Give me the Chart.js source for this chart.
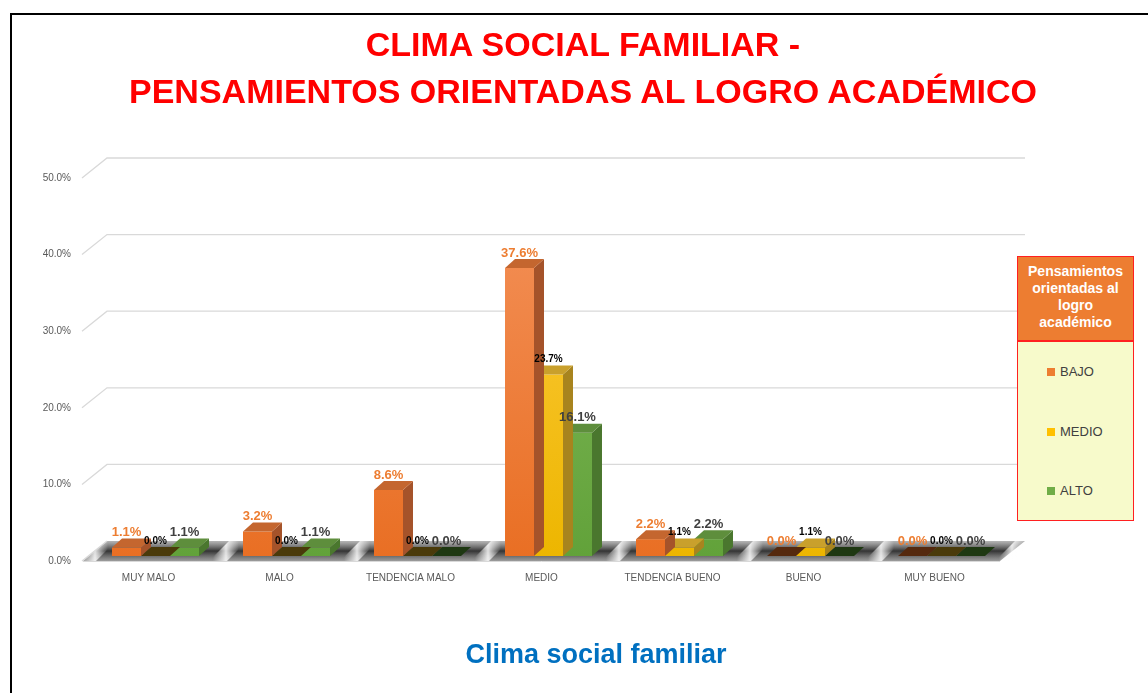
<!DOCTYPE html>
<html><head><meta charset="utf-8">
<script src="https://cdn.jsdelivr.net/npm/chart.js@4.4.1/dist/chart.umd.min.js"></script>
<style>
html,body{margin:0;padding:0;background:#fff;width:1148px;height:693px;overflow:hidden;font-family:"Liberation Sans",Arial,sans-serif;}
#frame{position:absolute;left:10px;top:13px;width:1200px;height:800px;border-left:2.5px solid #000;border-top:2.5px solid #000;box-sizing:border-box;}
#c{position:absolute;left:0;top:0;}
#title{position:absolute;left:0;top:21px;width:1166px;text-align:center;color:#FF0000;font-weight:bold;font-size:34px;line-height:47px;}
#xtitle{position:absolute;left:0;top:638px;width:1192px;text-align:center;color:#0070C0;font-weight:bold;font-size:27px;line-height:32px;}
#lghead{position:absolute;left:1017px;top:256px;width:117px;height:85px;box-sizing:border-box;background:#ED7D31;border:1.5px solid #FF2020;color:#fff;font-weight:bold;font-size:14px;line-height:17px;text-align:center;padding-top:6px;}
#lgbody{position:absolute;left:1017px;top:341px;width:117px;height:180px;box-sizing:border-box;background:#F7FACB;border:1.5px solid #FF2020;}
.li{position:absolute;left:29px;font-size:13px;color:#404040;line-height:16px;}
.li span.m{display:inline-block;width:8px;height:8px;margin-right:5px;vertical-align:0px;}
</style>
</head><body>
<div id="frame"></div>
<canvas id="c" width="1148" height="693"></canvas>
<div id="title"></div>
<div id="xtitle"></div>
<div id="lghead"></div>
<div id="lgbody"></div>
<script>
// ---- data ----
const chartTitle = ["CLIMA SOCIAL FAMILIAR -", "PENSAMIENTOS ORIENTADAS AL LOGRO ACADÉMICO"];
const xAxisTitle = "Clima social familiar";
const legendTitle = ["Pensamientos", "orientadas al", "logro", "académico"];
const categories = ["MUY MALO", "MALO", "TENDENCIA MALO", "MEDIO", "TENDENCIA BUENO", "BUENO", "MUY BUENO"];
const seriesNames = ["BAJO", "MEDIO", "ALTO"];
const bajo  = [1.1, 3.2, 8.6, 37.6, 2.2, 0.0, 0.0];
const medio = [0.0, 0.0, 0.0, 23.7, 1.1, 1.1, 0.0];
const alto  = [1.1, 1.1, 0.0, 16.1, 2.2, 0.0, 0.0];
const yTicks = [0, 10, 20, 30, 40, 50];

// ---- styles ----
const styles = [
  {base:'#ED7D31', gTop:'#F4935C', gBot:'#E96F24', topFace:'#C4662F', side:'#A5532A', zero:'#55290E', lbl:'#ED7D31', lblSize:13},
  {base:'#FFC000', gTop:'#FFCC45', gBot:'#EDB600', topFace:'#C9A02C', side:'#A8841E', zero:'#4A3A0A', lbl:'#000000', lblSize:10},
  {base:'#70AD47', gTop:'#86BD60', gBot:'#62A23A', topFace:'#5E8E3C', side:'#4A772E', zero:'#1E3812', lbl:'#404040', lblSize:13}
];
const DX = 10, DY = 9;

document.getElementById('title').innerHTML = chartTitle.join('<br>');
document.getElementById('xtitle').textContent = xAxisTitle;
document.getElementById('lghead').innerHTML = legendTitle.join('<br>');
const lgb = document.getElementById('lgbody');
[22, 82, 141].forEach((t, i) => {
  const d = document.createElement('div');
  d.className = 'li'; d.style.top = t + 'px';
  d.innerHTML = '<span class="m" style="background:' + styles[i].base + '"></span>' + seriesNames[i];
  lgb.appendChild(d);
});

const ctx = document.getElementById('c').getContext('2d');

function frontGradient(i) {
  return (context) => {
    const chart = context.chart;
    const a = chart.chartArea;
    if (!a) return styles[i].base;
    const el = context.element;
    const top = el && isFinite(el.y) ? el.y : a.top;
    const bot = el && isFinite(el.base) ? el.base : a.bottom;
    const g = chart.ctx.createLinearGradient(0, Math.min(top, bot - 1), 0, bot);
    g.addColorStop(0, styles[i].gTop);
    g.addColorStop(1, styles[i].gBot);
    return g;
  };
}

const wallPlugin = {
  id: 'wall',
  beforeDatasetsDraw(chart) {
    const c = chart.ctx, a = chart.chartArea, ys = chart.scales.y, xs = chart.scales.x;
    c.save();
    // floor
    const fy = a.bottom + 5, by = a.bottom - 15;
    const fl = a.left - 7, fr = a.right - 7;
    const bl = fl + 24, br = 1025;
    c.beginPath();
    c.moveTo(fl, fy); c.lineTo(bl, by); c.lineTo(br, by); c.lineTo(fr, fy); c.closePath();
    const g = c.createLinearGradient(0, by, 0, fy);
    g.addColorStop(0, 'rgba(120,120,120,0.55)');
    g.addColorStop(0.5, 'rgba(30,30,30,0.9)');
    g.addColorStop(1, 'rgba(90,90,90,0.6)');
    c.fillStyle = g; c.fill();
    // light streaks in gaps between categories
    for (let k = 0; k <= categories.length; k++) {
      const xc = xs.getPixelForValue(k - 0.5);
      const gg = c.createLinearGradient(xc - 8, 0, xc + 18, 0);
      gg.addColorStop(0, 'rgba(255,255,255,0)');
      gg.addColorStop(0.5, 'rgba(255,255,255,0.85)');
      gg.addColorStop(1, 'rgba(255,255,255,0)');
      c.beginPath();
      c.moveTo(xc - 12, fy); c.lineTo(xc + 8, by); c.lineTo(xc + 26, by); c.lineTo(xc + 6, fy); c.closePath();
      c.fillStyle = gg; c.fill();
    }
    c.strokeStyle = '#D9D9D9'; c.lineWidth = 1;
    c.beginPath(); c.moveTo(fl, fy + 0.5); c.lineTo(fr, fy + 0.5); c.stroke();
    // gridlines (3D wall)
    c.strokeStyle = '#D9D9D9'; c.lineWidth = 1.3;
    yTicks.forEach(v => {
      const py = ys.getPixelForValue(v);
      c.beginPath();
      c.moveTo(a.left - 8, py + 5);
      c.lineTo(a.left + 17, py - 15);
      if (v > 0) c.lineTo(br, py - 15);
      c.stroke();
    });
    c.restore();
  },
  afterDatasetDraw(chart, args) {
    const c = chart.ctx, i = args.index, s = styles[i];
    c.save();
    args.meta.data.forEach((el, j) => {
      const v = chart.data.datasets[i].data[j];
      const left = el.x - el.width / 2, right = el.x + el.width / 2;
      const top = Math.min(el.y, el.base), base = el.base;
      // side face
      if (v > 0) {
        c.beginPath();
        c.moveTo(right, top); c.lineTo(right + DX, top - DY); c.lineTo(right + DX, base - DY); c.lineTo(right, base); c.closePath();
        c.fillStyle = s.side; c.fill();
      }
      // top face
      c.beginPath();
      c.moveTo(left, top); c.lineTo(left + DX, top - DY); c.lineTo(right + DX, top - DY); c.lineTo(right, top); c.closePath();
      c.fillStyle = v > 0 ? s.topFace : s.zero; c.fill();
    });
    c.restore();
  },
  afterDatasetsDraw(chart) {
    const c = chart.ctx;
    c.save();
    c.textAlign = 'center'; c.textBaseline = 'middle';
    chart.data.datasets.forEach((ds, i) => {
      const s = styles[i];
      c.font = 'bold ' + s.lblSize + 'px "Liberation Sans", Arial, sans-serif';
      c.fillStyle = s.lbl;
      chart.getDatasetMeta(i).data.forEach((el, j) => {
        c.fillText(ds.data[j].toFixed(1) + '%', el.x, Math.min(el.y, el.base) - 15);
      });
    });
    c.restore();
  }
};

new Chart(ctx, {
  type: 'bar',
  data: {
    labels: categories,
    datasets: [
      {label: seriesNames[0], data: bajo, backgroundColor: frontGradient(0)},
      {label: seriesNames[1], data: medio, backgroundColor: frontGradient(1)},
      {label: seriesNames[2], data: alto, backgroundColor: frontGradient(2)}
    ]
  },
  options: {
    responsive: false,
    animation: false,
    events: [],
    layout: {padding: {top: 173, left: 43, right: 141, bottom: 109}},
    datasets: {bar: {barPercentage: 1, categoryPercentage: 0.664, borderWidth: 0}},
    plugins: {legend: {display: false}, title: {display: false}, tooltip: {enabled: false}},
    scales: {
      x: {
        grid: {display: false, drawTicks: false},
        border: {display: false},
        ticks: {color: '#595959', font: {size: 10, family: '"Liberation Sans", Arial'}, padding: 16, labelOffset: -7, maxRotation: 0, autoSkip: false},
        afterFit: s => { s.height = 28; }
      },
      y: {
        min: 0, max: 50,
        afterBuildTicks: s => { s.ticks = yTicks.map(v => ({value: v})); },
        grid: {display: false, drawTicks: false},
        border: {display: false},
        ticks: {color: '#595959', font: {size: 10, family: '"Liberation Sans", Arial'}, padding: 19, labelOffset: 5,
          callback: v => Number(v).toFixed(1) + '%'},
        afterFit: s => { s.width = 47; }
      }
    }
  },
  plugins: [wallPlugin]
});
</script>
</body></html>
